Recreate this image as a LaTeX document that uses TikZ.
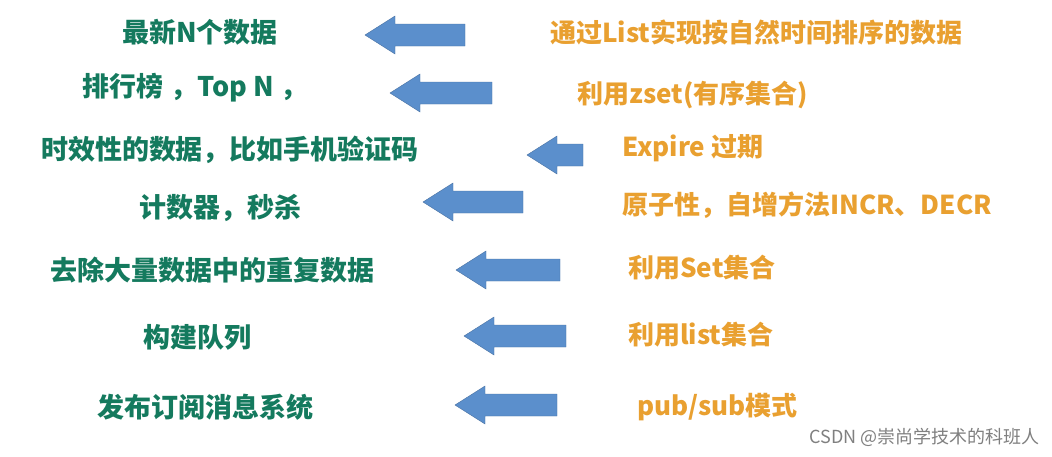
\documentclass[tikz,border=0pt]{standalone}
\usepackage{fontspec}
\newfontfamily\cjk{Noto Sans CJK SC}
\definecolor{lgreen}{HTML}{147A5E}
\definecolor{rorange}{HTML}{E9A030}
\definecolor{abl}{HTML}{5B8FCC}
\newcommand{\barrow}[3]{\fill[abl, draw=abl!80!black, line width=0.4]
  (#1,#3) -- (#1+30,#3-19) -- (#1+30,#3-11) -- (#2,#3-11) -- (#2,#3+11) -- (#1+30,#3+11) -- (#1+30,#3+19) -- cycle;}
\begin{document}
\begin{tikzpicture}[x=1pt,y=-1pt,
  lt/.style={font=\cjk\bfseries\fontsize{27}{29}\selectfont, text=lgreen, anchor=center, inner sep=0},
  rt/.style={font=\cjk\bfseries\fontsize{26}{28}\selectfont, text=rorange, anchor=west, inner sep=0}]
\useasboundingbox (0,0) rectangle (1052,456);
\fill[white] (0,0) rectangle (1052,456);
\node[lt] (l1) at (200,32) {最新N个数据};
\node[lt] (l2) at (195,88) {排行榜 ，Top N ，};
\node[lt] (l3) at (230,150) {时效性的数据，比如手机验证码};
\node[lt] (l4) at (220,208) {计数器，秒杀};
\node[lt] (l5) at (212,270) {去除大量数据中的重复数据};
\node[lt] (l6) at (197,337) {构建队列};
\node[lt] (l7) at (205,407) {发布订阅消息系统};
\barrow{365}{465}{35}
\barrow{390}{492}{93}
\barrow{527}{583}{155}
\barrow{423}{523}{202}
\barrow{456}{560}{270}
\barrow{464}{566}{336}
\barrow{455}{557}{405}
\node[rt] (r1) at (550,32) {通过List实现按自然时间排序的数据};
\node[rt] (r2) at (577,95) {利用zset(有序集合)};
\node[rt] (r3) at (622,148) {Expire 过期};
\node[rt] (r4) at (622,205) {原子性，自增方法INCR、DECR};
\node[rt] (r5) at (628,268) {利用Set集合};
\node[rt] (r6) at (628,335) {利用list集合};
\node[rt] (r7) at (637,407) {pub/sub模式};
\node[font=\cjk\fontsize{18}{20}\selectfont, text=gray, anchor=east, inner sep=0] (wm) at (1040,437) {CSDN @崇尚学技术的科班人};
\end{tikzpicture}
\end{document}
